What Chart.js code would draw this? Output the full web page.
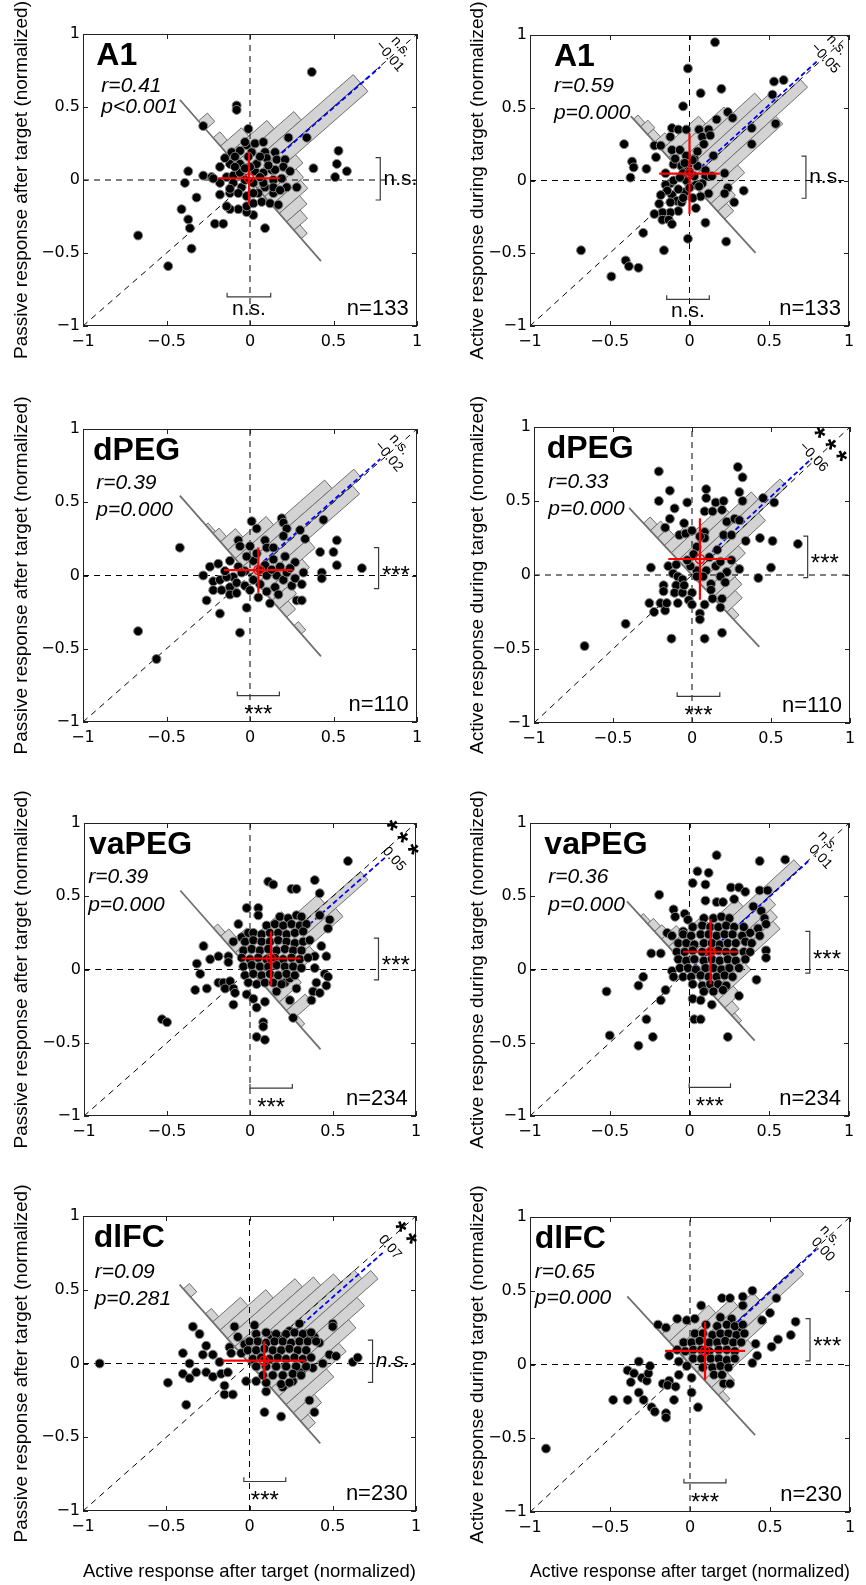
<!DOCTYPE html>
<html>
<head>
<meta charset="utf-8">
<script src="https://cdn.jsdelivr.net/npm/chart.js@4.4.1/dist/chart.umd.min.js"></script>
<style>
  html, body { margin: 0; padding: 0; background: #fff; }
  #fig { position: relative; width: 866px; height: 1585px; overflow: hidden; }
  #fig canvas { position: absolute; }
</style>
</head>
<body>
<div id="fig"></div>
<script>
/* ---------------------------------------------------------------
   Passive vs active responses, 4 areas x 2 comparisons
   --------------------------------------------------------------- */
const TICKS       = [-1, -0.5, 0, 0.5, 1];
const TICK_LABELS = ['−1', '−0.5', '0', '0.5', '1'];
const AXIS_RANGE  = [-1, 1];
const AREAS       = ['A1', 'dPEG', 'vaPEG', 'dlFC'];
const N_UNITS     = [133, 110, 234, 230];
const Y_TITLES    = ['Passive response after target (normalized)', 'Active response during target (normalized)'];
const X_TITLE     = 'Active response after target (normalized)';

const R_TEXT     = ['r=0.41', 'r=0.59', 'r=0.39', 'r=0.33', 'r=0.39', 'r=0.36', 'r=0.09', 'r=0.65'];
const P_TEXT     = ['p<0.001', 'p=0.000', 'p=0.000', 'p=0.000', 'p=0.000', 'p=0.000', 'p=0.281', 'p=0.000'];
const SHIFT_TEXT = ['−0.01', '−0.05', '−0.02', '−0.06', '0.05', '0.01', '0.07', '0.00'];
const SHIFT_SIG  = ['n.s.', 'n.s.', 'n.s.', '***', '***', 'n.s.', '**', 'n.s.'];
const X_SIG      = ['n.s.', 'n.s.', '***', '***', '***', '***', '***', '***'];
const Y_SIG      = ['n.s.', 'n.s.', '***', '***', '***', '***', 'n.s.', '***'];

// red cross: mean and half length of each bar
const MEAN_X   = [-0.006, 0.0, 0.05, 0.05, 0.127, 0.132, 0.088, 0.094];
const MEAN_Y   = [0.012, 0.047, 0.037, 0.108, 0.075, 0.121, 0.019, 0.092];
const SPREAD_X = [0.185, 0.19, 0.205, 0.2, 0.178, 0.172, 0.25, 0.25];
const SPREAD_Y = [0.18, 0.277, 0.155, 0.275, 0.185, 0.222, 0.132, 0.198];

// blue line y = x + shift, from x0 to x1
const SHIFT    = [-0.005, 0.02, 0.015, 0.03, -0.05, -0.005, -0.05, -0.01];
const SHIFT_X0 = [0.19, 0.07, 0.08, 0.09, 0.32, 0.02, 0.24, 0.04];
const SHIFT_X1 = [0.78, 0.8, 0.78, 0.76, 0.82, 0.75, 0.8, 0.79];

// significance brackets
const XB_LO = [-0.137, -0.143, -0.076, -0.094, 0.0, -0.002, -0.034, -0.038];
const XB_HI = [0.124, 0.124, 0.176, 0.176, 0.255, 0.257, 0.218, 0.225];
const XB_Y  = [-0.80, -0.817, -0.82, -0.82, -0.81, -0.804, -0.80, -0.803];
const YB_LO = [-0.137, -0.122, -0.09, -0.018, -0.071, -0.025, -0.128, 0.024];
const YB_HI = [0.153, 0.168, 0.19, 0.263, 0.214, 0.26, 0.159, 0.311];
const YB_X  = [0.78, 0.73, 0.77, 0.732, 0.774, 0.754, 0.739, 0.75];

// rotated histograms: bar lengths along the diagonal, bins along the anti-diagonal
const HIST_BIN   = 0.044;
const HIST_START = [-0.441, -0.351, -0.441, -0.351, -0.441, -0.351, -0.441, -0.351];
const HIST_BASE  = [[-0.42, 0.425], [-0.368, 0.414], [-0.42, 0.425], [-0.398, 0.426],
                    [-0.42, 0.425], [-0.392, 0.409], [-0.42, 0.425], [-0.392, 0.407]];
const HIST_A1_PASSIVE    = [0, 0, 0, 0.054, 0, 0.041, 0.126, 0.234, 0.352, 0.663, 0.663, 0.23, 0.189, 0.171, 0.122, 0.081, 0.036, 0, 0, 0];
const HIST_A1_ACTIVE     = [0.028, 0.046, 0.037, 0.065, 0.232, 0.347, 0.496, 0.556, 0.695, 0.496, 0.213, 0.111, 0.056];
const HIST_DPEG_PASSIVE  = [0, 0, 0, 0, 0.014, 0.036, 0.09, 0.23, 0.536, 0.667, 0.613, 0.302, 0.225, 0.104, 0.054, 0, 0.027, 0, 0, 0];
const HIST_DPEG_ACTIVE   = [0, 0.042, 0.065, 0.065, 0.139, 0.323, 0.462, 0.6, 0.42, 0.249, 0.185, 0.139, 0.097, 0.032];
const HIST_VAPEG_PASSIVE = [0, 0, 0, 0, 0, 0.027, 0.05, 0.113, 0.28, 0.451, 0.667, 0.473, 0.271, 0.135, 0.05, 0.113, 0.023, 0, 0, 0];
const HIST_VAPEG_ACTIVE  = [0, 0.018, 0.037, 0.046, 0.092, 0.208, 0.379, 0.698, 0.495, 0.462, 0.435, 0.208, 0.097, 0.046, 0.018];
const HIST_DLFC_PASSIVE  = [0, 0.036, 0, 0, 0.036, 0.167, 0.275, 0.406, 0.473, 0.55, 0.631, 0.685, 0.559, 0.464, 0.361, 0.243, 0.126, 0.045, 0, 0];
const HIST_DLFC_ACTIVE   = [0, 0, 0, 0.032, 0.115, 0.248, 0.344, 0.436, 0.666, 0.39, 0.271, 0.101, 0.028];

// scatter points [x, y]
const A1_PASSIVE = [
  [0.37,0.74],[-0.08,0.51],[-0.08,0.48],[-0.01,0.35],[-0.28,0.37],[0.23,0.29],[0.34,0.29],[0.53,0.2],[0.52,0.11],[0.58,0.06],
  [0.51,0.02],[0.38,0.08],[0.28,-0.05],[-0.37,0.06],[-0.39,-0.02],[-0.28,0.03],[-0.23,0.02],[-0.32,-0.12],[-0.41,-0.2],[-0.37,-0.27],
  [-0.36,-0.33],[-0.35,-0.47],[-0.67,-0.38],[-0.49,-0.59],[-0.21,-0.3],[-0.16,-0.3],[0.09,-0.33],[0.02,-0.24],[-0.02,-0.22],[-0.02,-0.18],
  [-0.07,-0.2],[-0.12,-0.2],[-0.14,-0.18],[-0.18,-0.1],[-0.12,-0.09],[0.02,-0.16],[0.07,-0.15],[0.12,-0.16],[0.17,-0.17],[0.14,-0.09],
  [0.09,-0.05],[-0.18,0.09],[-0.12,0.11],[-0.06,0.11],[-0.11,0.19],[-0.06,0.2],[-0.02,0.24],[0.03,0.25],[0.08,0.26],[-0.03,0.26],
  [0.01,0.19],[0.09,0.19],[0.15,0.19],[0.1,0.15],[0.16,0.14],[0.21,0.14],[0.2,0.09],[0.24,0.06],[-0.14,0.02],[-0.1,0.03],
  [-0.06,0.05],[0.03,0.06],[0.08,0.05],[0.13,0.07],[0.14,0],[-0.1,-0.02],[-0.05,-0.05],[0.02,-0.02],[0.08,-0.02],[-0.12,-0.06],
  [-0.07,-0.09],[0.05,-0.09],[-0.02,-0.11],[0.02,-0.09],[-0.18,-0.02],[-0.22,0.01],[-0.09,0.16],[0.04,0.11],[0,0.09],[0.06,0.16],
  [0.15,0.07],[0.19,0.01],[0.22,-0.05],[-0.09,0.09],[-0.03,0.08],[-0.01,0.16],[-0.15,0.15],[0.11,0.1],[0.06,0.02],[-0.03,0],
  [0.14,-0.05],[0.18,-0.07]
];
const A1_ACTIVE = [
  [0.16,0.95],[-0.01,0.77],[0.07,0.6],[0.2,0.63],[-0.04,0.51],[0.53,0.68],[0.59,0.69],[0.52,0.59],[0.24,0.47],[0.27,0.43],
  [0.17,0.42],[0.39,0.36],[0.54,0.39],[0.39,0.25],[0.06,0.35],[0.12,0.35],[-0.11,0.36],[-0.07,0.35],[-0.02,0.35],[0.08,0.3],
  [0.13,0.31],[-0.12,0.3],[-0.22,0.24],[-0.18,0.24],[-0.41,0.25],[-0.36,0.13],[-0.35,0.09],[-0.37,0.02],[-0.27,0.08],[-0.21,0.16],
  [-0.11,0.21],[-0.06,0.21],[0.03,0.15],[0.15,0.17],[-0.1,0.11],[-0.05,0.1],[-0.01,0.1],[0.05,0.1],[0.1,0.03],[0.14,0.03],
  [0.22,0.05],[0.24,-0.05],[0.34,-0.07],[0.28,-0.15],[0.22,-0.09],[0.12,-0.09],[0.07,-0.11],[-0.03,-0.08],[-0.07,-0.06],[-0.12,-0.02],
  [-0.15,-0.03],[-0.11,-0.1],[-0.08,-0.14],[-0.05,-0.15],[-0.12,-0.15],[-0.19,-0.16],[-0.07,-0.21],[-0.12,-0.22],[-0.17,-0.22],[-0.22,-0.23],
  [-0.17,-0.27],[-0.13,-0.27],[-0.11,-0.3],[0.04,-0.19],[0.1,-0.29],[-0.01,-0.4],[0.23,-0.42],[-0.29,-0.36],[-0.16,-0.48],[-0.4,-0.55],
  [-0.38,-0.59],[-0.32,-0.6],[-0.49,-0.66],[-0.68,-0.48],[0.03,0.03],[-0.02,0],[0.04,-0.03],[0.08,-0.02],[-0.04,0.05],[0.02,0.14],
  [-0.02,0.17],[-0.15,0.05],[-0.1,0],[-0.06,0.02],[0,-0.05],[-0.04,-0.12],[0.02,-0.12],[0.06,-0.04],[-0.14,-0.07],[-0.18,-0.1],
  [-0.09,0.15],[0.05,0.2],[0.09,0.25],[0.1,0.07],[0,0.06],[-0.03,0.12]
];
const DPEG_PASSIVE = [
  [-0.42,0.19],[-0.67,-0.38],[-0.56,-0.57],[0.01,0.37],[0.04,0.32],[-0.07,0.24],[-0.06,0.2],[0,0.2],[0.09,0.24],[0.1,0.19],
  [0.19,0.39],[0.2,0.36],[0.22,0.32],[0.2,0.27],[0.3,0.31],[0.33,0.25],[0.44,0.38],[0.52,0.24],[0.42,0.16],[0.5,0.16],
  [0.52,0.07],[0.67,0.05],[0.43,0.02],[0.43,-0.02],[0.32,0.02],[0.31,-0.06],[0.28,-0.17],[0.31,-0.17],[0.27,0.09],[0.21,0.13],
  [0.14,0.11],[0.12,-0.19],[-0.18,-0.26],[-0.26,-0.17],[-0.24,0.06],[-0.19,0.08],[-0.12,0.1],[-0.28,0],[-0.22,-0.04],[-0.18,-0.03],
  [-0.22,-0.1],[-0.17,-0.1],[-0.12,-0.08],[-0.12,-0.13],[-0.08,-0.12],[-0.02,-0.22],[-0.06,-0.39],[-0.1,-0.01],[-0.07,0.06],[-0.03,0.03],
  [-0.08,-0.05],[-0.03,-0.07],[0.02,0.1],[0.09,0.07],[0.1,0],[0.06,-0.06],[0.16,0],[0.2,-0.03],[0.22,0.02],[0.15,-0.08],
  [0.1,-0.11],[0.25,-0.07],[0.27,-0.02],[0.04,0.15],[-0.02,0.13],[0.14,0.19],[0.02,-0.03],[-0.14,-0.01],[0.06,0.04],[-0.05,0.02],
  [0.13,0.04],[0.18,0.06],[0.24,0.05],[-0.15,0.03],[0,-0.1],[0.17,-0.13],[0.05,-0.15]
];
const DPEG_ACTIVE = [
  [-0.21,0.7],[0.29,0.73],[0.32,0.66],[0.09,0.58],[-0.14,0.57],[-0.21,0.5],[-0.03,0.49],[0.09,0.52],[0.15,0.49],[0.2,0.5],
  [0.3,0.56],[0.32,0.5],[0.45,0.52],[0.52,0.49],[-0.11,0.45],[0.08,0.43],[0.13,0.43],[0.19,0.44],[-0.14,0.38],[-0.05,0.35],
  [-0.17,0.32],[-0.08,0.27],[-0.04,0.28],[0,0.3],[0.08,0.29],[0.08,0.25],[0.22,0.36],[0.27,0.38],[0.3,0.37],[0.2,0.27],
  [0.25,0.27],[0.34,0.23],[0.43,0.25],[0.51,0.23],[0.67,0.21],[0.5,0.05],[0.42,-0.02],[0.3,0.04],[0.22,0.02],[0.03,0.19],
  [-0.26,0.05],[-0.15,0.06],[-0.1,0.07],[-0.12,0.01],[-0.09,-0.01],[-0.06,-0.03],[-0.1,-0.07],[-0.18,-0.07],[-0.18,-0.11],[-0.11,-0.12],
  [-0.06,-0.12],[0,-0.12],[-0.27,-0.19],[-0.2,-0.19],[-0.24,-0.25],[-0.17,-0.24],[-0.16,-0.19],[-0.09,-0.19],[-0.02,-0.17],[0,-0.2],
  [0.08,-0.2],[0.13,-0.16],[0.19,-0.16],[0.18,-0.22],[0.05,-0.26],[0.05,-0.3],[-0.42,-0.33],[-0.13,-0.43],[0.08,-0.43],[0.19,-0.39],
  [-0.68,-0.48],[0.09,0.03],[0.15,0.06],[0.18,-0.01],[0.21,-0.05],[0.12,-0.06],[0.07,-0.01],[0.03,0.03],[-0.01,0.06],[0.03,-0.01],
  [0.11,0.12],[0.16,0.17],[-0.03,0.1],[0.01,0.14],[0.12,-0.1],[-0.05,-0.07],[0.25,0.1],[0.18,0.09],[0.05,0.26]
];
const VAPEG_PASSIVE = [
  [0.59,0.74],[0.39,0.61],[0.11,0.6],[0.14,0.58],[0.25,0.55],[0.28,0.55],[0.42,0.52],[-0.02,0.42],[0.05,0.42],[0.05,0.37],
  [0.42,0.37],[0.48,0.34],[0.47,0.28],[-0.07,0.31],[-0.1,0.19],[-0.05,0.22],[-0.01,0.25],[-0.28,0.16],[-0.32,0.04],[-0.3,-0.03],
  [-0.24,0.07],[-0.19,0.09],[-0.13,0.09],[-0.13,0.05],[-0.33,-0.14],[-0.26,-0.13],[-0.19,-0.09],[-0.16,-0.09],[-0.12,-0.08],[-0.15,-0.13],
  [-0.1,-0.13],[-0.09,-0.16],[-0.1,-0.24],[-0.02,-0.17],[0.02,-0.2],[0.04,-0.26],[0.09,-0.22],[0.08,-0.36],[0.08,-0.39],[0.04,-0.46],
  [0.09,-0.48],[-0.53,-0.34],[-0.5,-0.36],[0.26,-0.33],[0.38,-0.15],[0.37,-0.21],[0.42,-0.16],[0.4,-0.09],[0.45,-0.03],[0.47,-0.05],
  [0.46,-0.11],[0.39,0.01],[0.39,0.09],[0.46,0.09],[0.43,0.16],[0.24,-0.21],[0.16,-0.15],[0.21,-0.09],[0.24,-0.06],[0.28,-0.13],
  [0.18,0.36],[0.23,0.35],[0.28,0.37],[0.31,0.36],[0.1,0.3],[0.15,0.31],[0.2,0.3],[0.25,0.31],[0.3,0.3],[0.34,0.31],
  [0.02,0.25],[0.07,0.24],[0.12,0.25],[0.17,0.25],[0.22,0.24],[0.27,0.25],[0.32,0.26],[-0.03,0.19],[0.02,0.2],[0.07,0.19],
  [0.12,0.19],[0.17,0.2],[0.22,0.19],[0.27,0.18],[0.32,0.19],[0.36,0.2],[-0.04,0.13],[0.01,0.14],[0.06,0.13],[0.11,0.14],
  [0.16,0.13],[0.21,0.14],[0.26,0.13],[0.31,0.13],[-0.05,0.08],[0,0.07],[0.05,0.08],[0.1,0.07],[0.15,0.08],[0.2,0.07],
  [0.25,0.08],[0.3,0.07],[0.35,0.08],[-0.04,0.02],[0.01,0.03],[0.06,0.02],[0.11,0.02],[0.16,0.03],[0.21,0.02],[0.26,0.02],
  [0.31,0.01],[-0.03,-0.04],[0.02,-0.03],[0.07,-0.04],[0.12,-0.03],[0.17,-0.04],[0.22,-0.03],[0.27,-0.04],[-0.01,-0.09],[0.04,-0.1],
  [0.09,-0.09],[0.14,-0.09],[0.19,-0.1]
];
const VAPEG_ACTIVE = [
  [0.17,0.78],[0.44,0.74],[0.6,0.75],[0.05,0.67],[0.12,0.66],[0.02,0.59],[0.1,0.58],[0.26,0.56],[0.31,0.56],[0.35,0.53],
  [0.44,0.54],[0.49,0.54],[-0.19,0.51],[0.1,0.47],[0.17,0.46],[0.21,0.46],[0.28,0.48],[-0.1,0.41],[-0.09,0.36],[-0.03,0.38],
  [-0.01,0.34],[0.4,0.43],[0.45,0.4],[0.47,0.35],[0.48,0.31],[0.43,0.28],[0.38,0.25],[0.44,0.23],[0.48,0.13],[0.48,0.08],
  [0.42,-0.07],[0.31,-0.18],[-0.14,0.25],[-0.11,0.23],[-0.04,0.26],[-0.24,0.11],[-0.18,0.11],[-0.29,-0.05],[-0.32,-0.11],[-0.15,-0.14],
  [-0.18,-0.21],[-0.27,-0.34],[-0.23,-0.46],[-0.5,-0.45],[-0.32,-0.52],[-0.52,-0.15],[0.24,-0.46],[0.03,-0.34],[0.07,-0.34],[0.02,-0.2],
  [0.07,-0.21],[0.14,-0.24],[-0.11,-0.01],[-0.1,-0.05],
  [0.09,0.35],[0.15,0.35],[0.2,0.36],[0.25,0.35],[0.02,0.29],[0.08,0.3],[0.13,0.29],[0.18,0.29],[0.23,0.3],[0.28,0.29],
  [0.34,0.29],[-0.04,0.24],[0.01,0.23],[0.07,0.24],[0.12,0.24],[0.17,0.23],[0.22,0.24],[0.27,0.24],[0.33,0.23],[-0.07,0.18],
  [-0.02,0.18],[0.03,0.17],[0.09,0.18],[0.14,0.18],[0.19,0.17],[0.24,0.18],[0.29,0.18],[0.35,0.19],[0.39,0.18],[-0.08,0.12],
  [-0.03,0.12],[0.02,0.13],[0.08,0.12],[0.13,0.12],[0.18,0.13],[0.23,0.12],[0.28,0.12],[0.34,0.12],[0.38,0.12],[-0.07,0.07],
  [-0.02,0.06],[0.03,0.07],[0.09,0.06],[0.14,0.07],[0.19,0.06],[0.24,0.07],[0.29,0.06],[0.35,0.07],[-0.06,0.01],[-0.01,0.01],
  [0.04,0],[0.1,0.01],[0.15,0.01],[0.2,0],[0.25,0.01],[0.31,0.01],[-0.04,-0.05],[0.01,-0.05],[0.07,-0.04],[0.12,-0.05],
  [0.17,-0.05],[0.22,-0.04],[0.27,-0.05],[0.02,-0.1],[0.08,-0.11],[0.13,-0.1],[0.18,-0.1],[0.23,-0.11],[0.09,-0.15],[0.15,-0.15],
  [0.21,-0.14]
];
const DLFC_PASSIVE = [
  [-0.9,0],[-0.49,-0.13],[-0.4,0.07],[-0.4,-0.07],[-0.38,-0.28],[-0.36,0],[-0.36,-0.1],[-0.34,0.25],[-0.3,0.2],[-0.32,-0.06],
  [-0.28,0.06],[-0.26,0.12],[-0.26,-0.06],[-0.22,0.06],[-0.22,-0.09],[-0.18,0.01],[-0.17,-0.07],[-0.15,-0.21],[-0.15,-0.15],[-0.13,-0.06],
  [-0.12,0.11],[-0.11,0.07],[-0.1,-0.21],[-0.09,0.25],[-0.07,0.18],[-0.05,0.07],[-0.03,0.13],[-0.02,-0.12],[0.03,0.26],[0.04,-0.12],
  [0.09,-0.33],[0.1,-0.19],[0.19,-0.36],[0.13,0.19],[0.19,0.18],[0.24,0.22],[0.3,0.27],[0.34,0.2],[0.39,0.18],[0.42,0.14],
  [0.5,0.27],[0.5,0.25],[0.48,0.06],[0.52,0.05],[0.44,0],[0.38,-0.03],[0.36,-0.25],[0.39,-0.33],[0.62,0.01],[0.65,0.04],
  [0.2,-0.16],[0.26,-0.12],[0.31,-0.06],
  [0.04,0.2],[0.1,0.21],[0.16,0.2],[0.22,0.2],[0.27,0.21],[0.32,0.2],[0.37,0.21],[0,0.15],[0.05,0.15],[0.1,0.14],
  [0.15,0.15],[0.2,0.15],[0.25,0.14],[0.3,0.15],[0.35,0.15],[0.4,0.15],[-0.01,0.09],[0.04,0.09],[0.09,0.1],[0.14,0.09],
  [0.19,0.09],[0.24,0.1],[0.29,0.09],[0.34,0.09],[0.02,0.03],[0.07,0.04],[0.12,0.03],[0.17,0.04],[0.22,0.03],[0.27,0.04],
  [0.32,0.03],[0.37,0.04],[0.04,-0.02],[0.1,-0.02],[0.16,-0.02],[0.22,-0.02],[0.28,-0.02],[0.34,-0.02],[0.08,-0.08],[0.14,-0.08],
  [0.2,-0.08],[0.26,-0.07],[0.31,-0.08],[0.1,-0.13],[0.19,-0.14],[0.24,-0.13]
];
const DLFC_ACTIVE = [
  [-0.9,-0.57],[-0.48,-0.24],[-0.39,-0.24],[-0.39,-0.04],[-0.37,-0.12],[-0.35,-0.06],[-0.32,0.02],[-0.32,-0.19],[-0.3,-0.09],[-0.27,-0.11],
  [-0.26,-0.06],[-0.25,-0.01],[-0.29,-0.24],[-0.24,-0.29],[-0.22,-0.32],[-0.15,-0.33],[-0.15,-0.36],[-0.17,-0.13],[-0.13,-0.11],[-0.14,-0.14],
  [-0.09,-0.15],[-0.1,-0.24],[-0.07,-0.07],[-0.07,0.02],[-0.13,0.06],[-0.02,-0.01],[0.01,-0.09],[0.01,-0.19],[0.05,-0.29],[-0.2,0.27],
  [-0.15,0.25],[-0.08,0.31],[-0.02,0.3],[0.03,0.31],[0.07,0.4],[0.2,0.45],[0.25,0.45],[0.33,0.46],[0.39,0.5],[0.33,0.4],
  [0.54,0.45],[0.5,0.35],[0.66,0.29],[0.63,0.2],[0.55,0.17],[0.51,0.12],[0.42,0.06],[0.39,0.01],[0.41,0.14],[0.45,0.3],
  [0.19,0.32],[0.26,0.31],[0.31,0.25],[0.21,-0.13],[0.25,-0.13],
  [0.1,0.27],[0.17,0.26],[0.23,0.27],[0.28,0.26],[0.33,0.27],[0.03,0.21],[0.08,0.21],[0.14,0.2],[0.19,0.21],[0.24,0.21],
  [0.29,0.2],[0.34,0.21],[-0.04,0.15],[0.01,0.15],[0.06,0.16],[0.12,0.15],[0.17,0.15],[0.22,0.16],[0.27,0.15],[0.32,0.15],
  [-0.08,0.1],[-0.03,0.09],[0.02,0.1],[0.07,0.1],[0.12,0.09],[0.18,0.1],[0.23,0.1],[0.28,0.09],[0.02,0.04],[0.07,0.04],
  [0.13,0.04],[0.18,0.04],[0.23,0.03],[0.28,0.04],[0.08,-0.02],[0.14,-0.02],[0.19,-0.01],[0.24,-0.02],[0.15,-0.07],[0.2,-0.07]
];

const PANEL_POINTS = [A1_PASSIVE, A1_ACTIVE, DPEG_PASSIVE, DPEG_ACTIVE, VAPEG_PASSIVE, VAPEG_ACTIVE, DLFC_PASSIVE, DLFC_ACTIVE];
const PANEL_HIST   = [HIST_A1_PASSIVE, HIST_A1_ACTIVE, HIST_DPEG_PASSIVE, HIST_DPEG_ACTIVE,
                      HIST_VAPEG_PASSIVE, HIST_VAPEG_ACTIVE, HIST_DLFC_PASSIVE, HIST_DLFC_ACTIVE];

/* ---------------- layout (page pixels) and label placement ---------------- */
const BOXES = [[83, 34, 417, 326], [530, 35, 849, 326], [83, 429, 417, 722], [534, 427, 850, 723],
               [84, 823, 416, 1116], [530, 823, 849, 1116], [83, 1216, 416, 1511], [530, 1217, 850, 1512]];
const PAD_TOP = 50;
// [title x, stats x, r baseline, p baseline] in axis units
const HEAD_POS = [[-0.92, -0.89, 0.605, 0.457], [-0.85, -0.85, 0.61, 0.42], [-0.94, -0.92, 0.588, 0.406], [-0.92, -0.91, 0.585, 0.403],
                  [-0.97, -0.975, 0.59, 0.396], [-0.91, -0.885, 0.59, 0.40], [-0.935, -0.93, 0.578, 0.397], [-0.97, -0.97, 0.589, 0.408]];
// centres of the rotated labels at the end of the blue line: [sig x, sig y, value x, value y]
const TIP_POS = [[0.904, 0.913, 0.836, 0.845], [0.923, 0.931, 0.85, 0.84], [0.894, 0.894, 0.83, 0.811], [0.862, 0.843, 0.768, 0.797],
                 [0.904, 0.863, 0.867, 0.754], [0.868, 0.874, 0.82, 0.768], [0.925, 0.849, 0.843, 0.788], [0.875, 0.875, 0.83, 0.779]];

const LABEL_FONT = "'Liberation Sans', Arial, Helvetica, sans-serif";
const TICK_FONT  = "'DejaVu Sans', 'Liberation Sans', sans-serif";

Chart.defaults.font.family = LABEL_FONT;
Chart.defaults.color = '#000';

const pts = arr => arr.map(([x, y]) => ({ x, y }));
const lineSet = (arr, color, width, dash) => ({
    data: pts(arr), showLine: true, borderColor: color, borderWidth: width,
    borderDash: dash || [], pointRadius: 0, fill: false, tension: 0,
});

// text with its visual middle at (x, y)
function sigText(ctx, s, x, y, align, italic) {
    const star = s.indexOf('*') >= 0;
    const size = star ? 24 : 21;
    ctx.font = `${italic ? 'italic ' : ''}${size}px ${LABEL_FONT}`;
    ctx.textAlign = align;
    ctx.textBaseline = 'alphabetic';
    ctx.fillText(s, x, y + (star ? 0.6 : 0.27) * size);
}

const panelPlugin = {
    id: 'panelDeco',
    beforeDatasetsDraw(chart, args, opts) {
        const i = opts.index;
        const { ctx, scales: { x, y } } = chart;
        const sx = x.getPixelForValue(1) - x.getPixelForValue(0);
        const sy = y.getPixelForValue(0) - y.getPixelForValue(1);
        const k = (sx * sx) / (sy * sy);          // baseline is perpendicular to the diagonal on screen
        const P = (a, b) => [x.getPixelForValue(a), y.getPixelForValue(b)];
        ctx.save();
        ctx.fillStyle = '#d3d3d3';
        ctx.strokeStyle = '#6f6f6f';
        ctx.lineWidth = 1;
        PANEL_HIST[i].forEach((h, j) => {
            if (!h) return;
            const a = HIST_START[i] + j * HIST_BIN, b = a + HIST_BIN;
            const c = [P(a, -k * a), P(b, -k * b), P(b + h, -k * b + h), P(a + h, -k * a + h)];
            ctx.beginPath();
            c.forEach(([px, py], n) => n ? ctx.lineTo(px, py) : ctx.moveTo(px, py));
            ctx.closePath();
            ctx.fill();
            ctx.stroke();
        });
        const [b0, b1] = HIST_BASE[i];
        ctx.strokeStyle = '#707070';
        ctx.lineWidth = 1.8;
        ctx.beginPath();
        ctx.moveTo(...P(b0, -k * b0));
        ctx.lineTo(...P(b1, -k * b1));
        ctx.stroke();
        ctx.restore();
    },
    afterDatasetsDraw(chart, args, opts) {
        const i = opts.index, area = Math.floor(i / 2);
        const { ctx, chartArea: ca, scales: { x, y } } = chart;
        const P = (a, b) => [x.getPixelForValue(a), y.getPixelForValue(b)];
        ctx.save();

        // box with inward ticks
        ctx.strokeStyle = '#222';
        ctx.lineWidth = 1;
        ctx.strokeRect(ca.left + 0.5, ca.top + 0.5, ca.right - ca.left - 1, ca.bottom - ca.top - 1);
        ctx.beginPath();
        TICKS.forEach(v => {
            const xp = Math.round(x.getPixelForValue(v)) + 0.5;
            const yp = Math.round(y.getPixelForValue(v)) + 0.5;
            ctx.moveTo(xp, ca.bottom); ctx.lineTo(xp, ca.bottom - 5);
            ctx.moveTo(xp, ca.top);    ctx.lineTo(xp, ca.top + 5);
            ctx.moveTo(ca.left, yp);   ctx.lineTo(ca.left + 5, yp);
            ctx.moveTo(ca.right, yp);  ctx.lineTo(ca.right - 5, yp);
        });
        ctx.stroke();

        // headings
        const [tx, sxp, ry, py] = HEAD_POS[i];
        ctx.fillStyle = '#000';
        ctx.textAlign = 'left';
        ctx.textBaseline = 'alphabetic';
        ctx.font = `bold 32px ${LABEL_FONT}`;
        ctx.fillText(AREAS[area], ...P(tx, 0.79));
        ctx.font = `italic 21px ${LABEL_FONT}`;
        ctx.fillText(R_TEXT[i], ...P(sxp, ry));
        ctx.fillText(P_TEXT[i], ...P(sxp, py));
        ctx.font = `22px ${LABEL_FONT}`;
        ctx.textAlign = 'right';
        ctx.fillText('n=' + N_UNITS[area], ...P(0.95, -0.925));

        // bracket labels
        const [bx, by] = P((XB_LO[i] + XB_HI[i]) / 2, XB_Y[i] - 0.085);
        sigText(ctx, X_SIG[i], bx, by, 'center', false);
        const [rx, rY] = P(YB_X[i] + 0.02, (YB_LO[i] + YB_HI[i]) / 2);
        sigText(ctx, Y_SIG[i], rx, rY, 'left', i === 6);

        // rotated labels at the end of the blue line
        const sx = x.getPixelForValue(1) - x.getPixelForValue(0);
        const sy = y.getPixelForValue(0) - y.getPixelForValue(1);
        const ang = Math.atan2(sx, sy);
        const [sgx, sgy, vx, vy] = TIP_POS[i];
        const rot = (s, cx, cy, font, spacing) => {
            const [qx, qy] = P(cx, cy);
            ctx.save();
            ctx.translate(qx, qy);
            ctx.rotate(ang);
            ctx.font = font;
            if (spacing) ctx.letterSpacing = spacing;
            ctx.textAlign = 'center';
            ctx.textBaseline = 'middle';
            ctx.fillText(s, 0, 0);
            ctx.restore();
        };
        rot(SHIFT_TEXT[i], vx, vy, `14px ${LABEL_FONT}`);
        if (SHIFT_SIG[i].indexOf('*') >= 0) {
            rot(SHIFT_SIG[i], sgx, sgy, `bold 28px ${LABEL_FONT}`, '5px');
        } else {
            rot(SHIFT_SIG[i], sgx, sgy, `14px ${LABEL_FONT}`);
        }
        ctx.restore();
    },
};

const fig = document.getElementById('fig');

for (let i = 0; i < 8; i++) {
    const col = i % 2, row = Math.floor(i / 2);
    const [bl, bt, br, bb] = BOXES[i];
    const cl = col ? 440 : 0, cw = col ? 426 : 440;
    const ct = bt - PAD_TOP;
    const cb = row === 3 ? 1585 : bb + 40;
    const ch = cb - ct;

    const canvas = document.createElement('canvas');
    canvas.width = cw; canvas.height = ch;
    canvas.style.left = cl + 'px'; canvas.style.top = ct + 'px';
    canvas.style.width = cw + 'px'; canvas.style.height = ch + 'px';
    fig.appendChild(canvas);

    const [lo, hi] = AXIS_RANGE;
    const mx = MEAN_X[i], my = MEAN_Y[i];
    const tick = 0.028;

    new Chart(canvas.getContext('2d'), {
        type: 'scatter',
        plugins: [panelPlugin],
        data: {
            datasets: [
                { data: [{ x: mx, y: my }], pointRadius: 4.5, pointBorderWidth: 1.5,
                  pointBorderColor: '#ff0000', pointBackgroundColor: 'rgba(255,0,0,0)' },
                lineSet([[mx - SPREAD_X[i], my], [mx + SPREAD_X[i], my]], '#ff0000', 2.2),
                lineSet([[mx, my - SPREAD_Y[i]], [mx, my + SPREAD_Y[i]]], '#ff0000', 2.2),
                { data: pts(PANEL_POINTS[i]), pointRadius: 4.5, pointBorderWidth: 1,
                  pointBackgroundColor: '#000', pointBorderColor: '#858585' },
                lineSet([[SHIFT_X0[i], SHIFT_X0[i] + SHIFT[i]], [SHIFT_X1[i], SHIFT_X1[i] + SHIFT[i]]], '#0000ff', 1.8, [5, 3]),
                lineSet([[XB_LO[i], XB_Y[i] + tick], [XB_LO[i], XB_Y[i]], [XB_HI[i], XB_Y[i]], [XB_HI[i], XB_Y[i] + tick]], '#3a3a3a', 1.2),
                lineSet([[YB_X[i] - tick, YB_LO[i]], [YB_X[i], YB_LO[i]], [YB_X[i], YB_HI[i]], [YB_X[i] - tick, YB_HI[i]]], '#3a3a3a', 1.2),
                lineSet([[lo, lo], [hi, hi]], '#000', 1, [6, 5]),
                lineSet([[0, lo], [0, hi]], '#000', 1, [6, 5]),
                lineSet([[lo, 0], [hi, 0]], '#000', 1, [6, 5]),
            ],
        },
        options: {
            responsive: false,
            animation: false,
            devicePixelRatio: 1,
            events: [],
            layout: { autoPadding: false, padding: { top: PAD_TOP, right: cl + cw - br, left: 0, bottom: 0 } },
            plugins: { legend: { display: false }, tooltip: { enabled: false }, panelDeco: { index: i } },
            scales: {
                x: {
                    type: 'linear', min: lo, max: hi,
                    afterBuildTicks: s => { s.ticks = TICKS.map(v => ({ value: v })); },
                    afterFit: s => { s.height = cb - bb; },
                    grid: { display: false, drawTicks: false },
                    border: { display: false },
                    ticks: { autoSkip: false, maxRotation: 0, padding: 6, color: '#000',
                             font: { family: TICK_FONT, size: 16 },
                             callback: v => TICK_LABELS[TICKS.indexOf(v)] },
                    title: { display: row === 3, text: X_TITLE, color: '#000',
                             font: { family: LABEL_FONT, size: 19 }, padding: { top: 0, bottom: 2 } },
                },
                y: {
                    type: 'linear', min: lo, max: hi,
                    afterBuildTicks: s => { s.ticks = TICKS.map(v => ({ value: v })); },
                    afterFit: s => { s.width = bl - cl; },
                    grid: { display: false, drawTicks: false },
                    border: { display: false },
                    ticks: { autoSkip: false, padding: 3, color: '#000',
                             font: { family: TICK_FONT, size: 16 },
                             callback: v => TICK_LABELS[TICKS.indexOf(v)] },
                    title: { display: true, text: Y_TITLES[col], color: '#000',
                             font: { family: LABEL_FONT, size: 19 }, padding: { top: col ? 26 : 10.6, bottom: 0 } },
                },
            },
        },
    });
}
</script>
</body>
</html>
